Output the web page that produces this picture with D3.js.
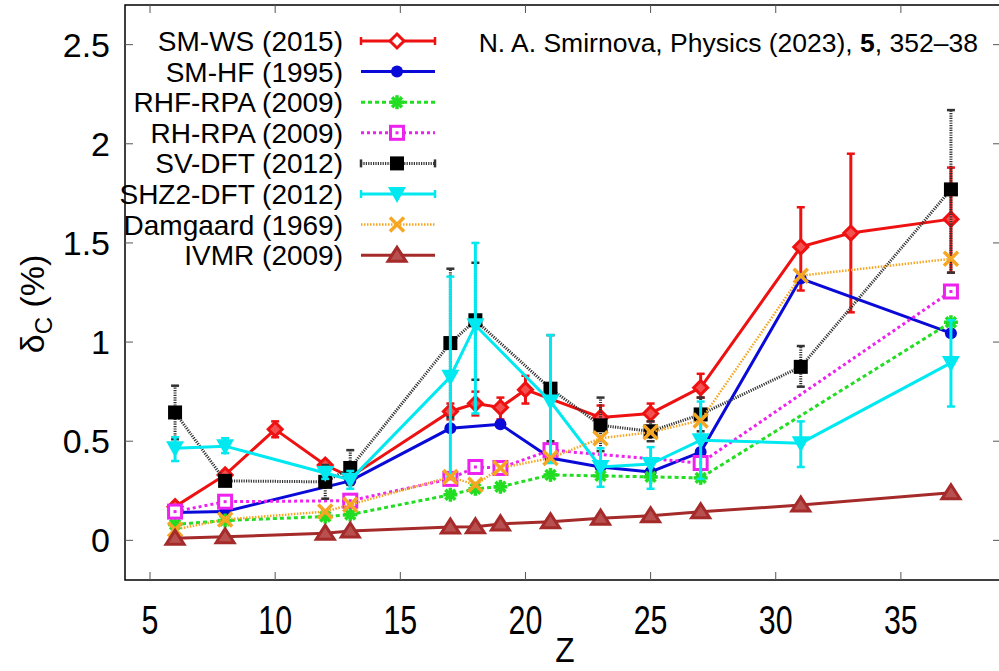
<!DOCTYPE html>
<html>
<head>
<meta charset="utf-8">
<script src="https://cdn.jsdelivr.net/npm/d3@7"></script>
<style>
  body { margin: 0; background: #fff; }
  text { font-family: "Liberation Sans", Arial, sans-serif; fill: #000; }
</style>
</head>
<body>
<div id="chart"></div>
<script>
// data (delta_c in %, vs Z)
const zWS  = [6, 8, 10, 12, 13, 17, 18, 19, 20, 23, 25, 27, 31, 33, 37];
const dWS  = [0.17, 0.33, 0.56, 0.38, 0.32, 0.65, 0.69, 0.67, 0.76, 0.62, 0.64, 0.77, 1.48, 1.55, 1.62];
const loWS = [0.15, 0.31, 0.52, 0.35, 0.30, 0.61, 0.63, 0.61, 0.69, 0.58, 0.60, 0.72, 1.26, 1.15, 1.35];
const hiWS = [0.19, 0.35, 0.60, 0.40, 0.34, 0.69, 0.75, 0.72, 0.83, 0.68, 0.69, 0.84, 1.68, 1.95, 1.88];

const zHF = [6, 8, 13, 17, 19, 21, 23, 25, 27, 31, 37];
const dHF = [0.14, 0.145, 0.30, 0.565, 0.585, 0.415, 0.37, 0.345, 0.445, 1.32, 1.045];

const zRHF = [6, 8, 12, 13, 17, 18, 19, 21, 23, 25, 27, 37];
const dRHF = [0.08, 0.10, 0.12, 0.13, 0.23, 0.26, 0.27, 0.33, 0.325, 0.32, 0.315, 1.10];

const zRH = [6, 8, 13, 17, 18, 19, 21, 27, 37];
const dRH = [0.145, 0.195, 0.20, 0.31, 0.37, 0.365, 0.455, 0.39, 1.255];

const zSV  = [6, 8, 12, 13, 17, 18, 21, 23, 25, 27, 31, 37];
const dSV  = [0.645, 0.30, 0.295, 0.365, 0.995, 1.11, 0.765, 0.58, 0.55, 0.635, 0.875, 1.77];
const loSV = [0.51, 0.28, 0.21, 0.28, 0.62, 0.81, 0.50, 0.45, 0.50, 0.55, 0.775, 1.35];
const hiSV = [0.78, 0.32, 0.38, 0.455, 1.37, 1.40, 1.035, 0.72, 0.60, 0.72, 0.98, 2.17];

const zSHZ  = [6, 8, 12, 13, 17, 18, 21, 23, 25, 27, 31, 37];
const dSHZ  = [0.465, 0.475, 0.34, 0.305, 0.825, 1.085, 0.70, 0.37, 0.385, 0.505, 0.49, 0.895];
const loSHZ = [0.40, 0.44, 0.31, 0.26, 0.32, 0.64, 0.39, 0.27, 0.26, 0.31, 0.37, 0.675];
const hiSHZ = [0.52, 0.515, 0.37, 0.35, 1.33, 1.50, 1.035, 0.465, 0.47, 0.70, 0.60, 1.11];

const zDam = [6, 8, 12, 13, 17, 18, 19, 21, 23, 25, 27, 31, 37];
const dDam = [0.055, 0.105, 0.145, 0.18, 0.32, 0.28, 0.365, 0.415, 0.515, 0.545, 0.605, 1.335, 1.42];

const zIV = [6, 8, 12, 13, 17, 18, 19, 21, 23, 25, 27, 31, 37];
const dIV = [0.01, 0.018, 0.036, 0.047, 0.067, 0.068, 0.083, 0.094, 0.112, 0.124, 0.144, 0.178, 0.24];

const labels = ["SM-WS (2015)", "SM-HF (1995)", "RHF-RPA (2009)", "RH-RPA (2009)",
                "SV-DFT (2012)", "SHZ2-DFT (2012)", "Damgaard (1969)", "IVMR (2009)"];
const xTicks = [5, 10, 15, 20, 25, 30, 35];
const yTicks = [0, 0.5, 1, 1.5, 2, 2.5];

function pack(z, d, lo, hi) {
    return z.map(function(v, i) {
        return { z: v, d: d[i], lo: lo ? lo[i] : null, hi: hi ? hi[i] : null };
    });
}

// styles per series
const series = [
    { name: labels[0], pts: pack(zWS, dWS, loWS, hiWS), color: "#ee1111", width: 3, dash: null, mark: "diamond" },
    { name: labels[1], pts: pack(zHF, dHF), color: "#0a0ad8", width: 3, dash: null, mark: "circle" },
    { name: labels[2], pts: pack(zRHF, dRHF), color: "#22dd22", width: 3, dash: "4,3", mark: "star" },
    { name: labels[3], pts: pack(zRH, dRH), color: "#ee22ee", width: 3, dash: "3,3", mark: "osquare" },
    { name: labels[4], pts: pack(zSV, dSV, loSV, hiSV), color: "#333333", width: 3, dash: "1.2,1.2", mark: "square" },
    { name: labels[5], pts: pack(zSHZ, dSHZ, loSHZ, hiSHZ), color: "#00e8f0", width: 3, dash: null, mark: "dtri" },
    { name: labels[6], pts: pack(zDam, dDam), color: "#f5a623", width: 2.5, dash: "1.5,1.5", mark: "cross" },
    { name: labels[7], pts: pack(zIV, dIV), color: "#a52a2a", width: 3, dash: null, mark: "tri" }
];

var W = 999, H = 671;
var pLeft = 125, pRight = 1001, pTop = 5, pBottom = 580;

var svg = d3.select("#chart").append("svg")
    .attr("width", W).attr("height", H);

var x = d3.scaleLinear().domain([4, 39]).range([pLeft, pRight]);
var y = d3.scaleLinear().domain([-0.2, 2.7]).range([pBottom, pTop]);

// frame
svg.append("rect")
    .attr("x", pLeft).attr("y", pTop)
    .attr("width", pRight - pLeft).attr("height", pBottom - pTop)
    .attr("fill", "none").attr("stroke", "#000").attr("stroke-width", 1.5);

// ticks (inward, mirrored)
var tk = 8;
xTicks.forEach(function(t) {
    svg.append("line").attr("x1", x(t)).attr("x2", x(t)).attr("y1", pBottom).attr("y2", pBottom - tk)
        .attr("stroke", "#555").attr("stroke-width", 1);
    svg.append("line").attr("x1", x(t)).attr("x2", x(t)).attr("y1", pTop).attr("y2", pTop + tk)
        .attr("stroke", "#555").attr("stroke-width", 1);
    svg.append("text").attr("x", x(t)).attr("y", 634)
        .attr("text-anchor", "middle").attr("font-size", 40)
        .attr("transform", "translate(" + x(t) + ",0) scale(0.76,1) translate(" + (-x(t)) + ",0)")
        .text(t);
});
yTicks.forEach(function(t) {
    svg.append("line").attr("x1", pLeft).attr("x2", pLeft + tk).attr("y1", y(t)).attr("y2", y(t))
        .attr("stroke", "#555").attr("stroke-width", 1);
    svg.append("line").attr("x1", pRight).attr("x2", pRight - tk).attr("y1", y(t)).attr("y2", y(t))
        .attr("stroke", "#555").attr("stroke-width", 1);
    svg.append("text").attr("x", 110).attr("y", y(t) + 12)
        .attr("text-anchor", "end").attr("font-size", 34)
        .text(t);
});

// axis titles
svg.append("text").attr("x", 565).attr("y", 662)
    .attr("text-anchor", "middle").attr("font-size", 36)
    .attr("transform", "translate(565,0) scale(0.88,1) translate(-565,0)").text("Z");
var yl = svg.append("text").attr("transform", "translate(44,304) rotate(-90)")
    .attr("text-anchor", "middle").attr("font-size", 34);
yl.append("tspan").text("δ");
yl.append("tspan").attr("font-size", 24).attr("dy", 8).text("C");
yl.append("tspan").attr("dy", -8).text(" (%)");

// reference note
var note = svg.append("text").attr("x", 978).attr("y", 52)
    .attr("text-anchor", "end").attr("font-size", 26.5);
note.append("tspan").text("N. A. Smirnova, Physics (2023), ");
note.append("tspan").attr("font-weight", "bold").text("5");
note.append("tspan").text(", 352–38");

function marker(g, type, cx, cy, color, inLegend) {
    var s = 7;
    if (type === "diamond") {
        g.append("path").attr("d", "M" + cx + "," + (cy - s) + "L" + (cx + s) + "," + cy + "L" + cx + "," + (cy + s) + "L" + (cx - s) + "," + cy + "Z")
            .attr("fill", inLegend ? "#fff" : "#f45050").attr("stroke", color).attr("stroke-width", 3);
    } else if (type === "circle") {
        g.append("circle").attr("cx", cx).attr("cy", cy).attr("r", 6).attr("fill", color);
    } else if (type === "star") {
        [0, 45, 90, 135].forEach(function(a) {
            var r = a * Math.PI / 180;
            g.append("line").attr("x1", cx - s * Math.cos(r)).attr("y1", cy - s * Math.sin(r))
                .attr("x2", cx + s * Math.cos(r)).attr("y2", cy + s * Math.sin(r))
                .attr("stroke", color).attr("stroke-width", 3.5);
        });
    } else if (type === "osquare") {
        g.append("rect").attr("x", cx - 6.5).attr("y", cy - 6.5).attr("width", 13).attr("height", 13)
            .attr("fill", "#fff").attr("stroke", color).attr("stroke-width", 3);
        g.append("rect").attr("x", cx - 1.5).attr("y", cy - 1.5).attr("width", 3).attr("height", 3).attr("fill", color);
    } else if (type === "square") {
        g.append("rect").attr("x", cx - 7).attr("y", cy - 7).attr("width", 14).attr("height", 14).attr("fill", "#000");
    } else if (type === "dtri") {
        g.append("path").attr("d", "M" + (cx - 9) + "," + (cy - 7) + "L" + (cx + 9) + "," + (cy - 7) + "L" + cx + "," + (cy + 9) + "Z")
            .attr("fill", color);
    } else if (type === "cross") {
        g.append("path").attr("d", "M" + (cx - 7) + "," + (cy - 7) + "L" + (cx + 7) + "," + (cy + 7) + "M" + (cx + 7) + "," + (cy - 7) + "L" + (cx - 7) + "," + (cy + 7))
            .attr("stroke", color).attr("stroke-width", 3.5);
    } else if (type === "tri") {
        g.append("path").attr("d", "M" + cx + "," + (cy - 8) + "L" + (cx + 9) + "," + (cy + 6) + "L" + (cx - 9) + "," + (cy + 6) + "Z")
            .attr("fill", "#b85050").attr("stroke", color).attr("stroke-width", 3);
    }
}

var line = d3.line().x(function(d) { return x(d.z); }).y(function(d) { return y(d.d); });

series.forEach(function(s, i) {
    var g = svg.append("g");
    g.append("path").datum(s.pts)
        .attr("fill", "none").attr("stroke", s.color).attr("stroke-width", s.width)
        .attr("stroke-dasharray", s.dash).attr("d", line);
    // error bars
    s.pts.forEach(function(p) {
        if (p.lo === null) return;
        g.append("line").attr("x1", x(p.z)).attr("x2", x(p.z)).attr("y1", y(p.lo)).attr("y2", y(p.hi))
            .attr("stroke", s.color).attr("stroke-width", 3).attr("stroke-dasharray", s.dash);
        [p.lo, p.hi].forEach(function(v) {
            g.append("line").attr("x1", x(p.z) - 4).attr("x2", x(p.z) + 4).attr("y1", y(v)).attr("y2", y(v))
                .attr("stroke", s.color).attr("stroke-width", 2.5);
        });
    });
    s.pts.forEach(function(p) { marker(g, s.mark, x(p.z), y(p.d), s.color, false); });

    // legend entry
    var ly = 41 + i * 30.6;
    svg.append("text").attr("x", 343).attr("y", ly + 10)
        .attr("text-anchor", "end").attr("font-size", 28).text(s.name);
    svg.append("line").attr("x1", 361).attr("x2", 435).attr("y1", ly).attr("y2", ly)
        .attr("stroke", s.color).attr("stroke-width", s.width).attr("stroke-dasharray", s.dash);
    if (s.pts[0].lo !== null) {
        [361, 435].forEach(function(xx) {
            svg.append("line").attr("x1", xx).attr("x2", xx).attr("y1", ly - 4).attr("y2", ly + 4)
                .attr("stroke", s.color).attr("stroke-width", 2.5);
        });
    }
    marker(svg, s.mark, 397, ly, s.color, true);
});
</script>
</body>
</html>
